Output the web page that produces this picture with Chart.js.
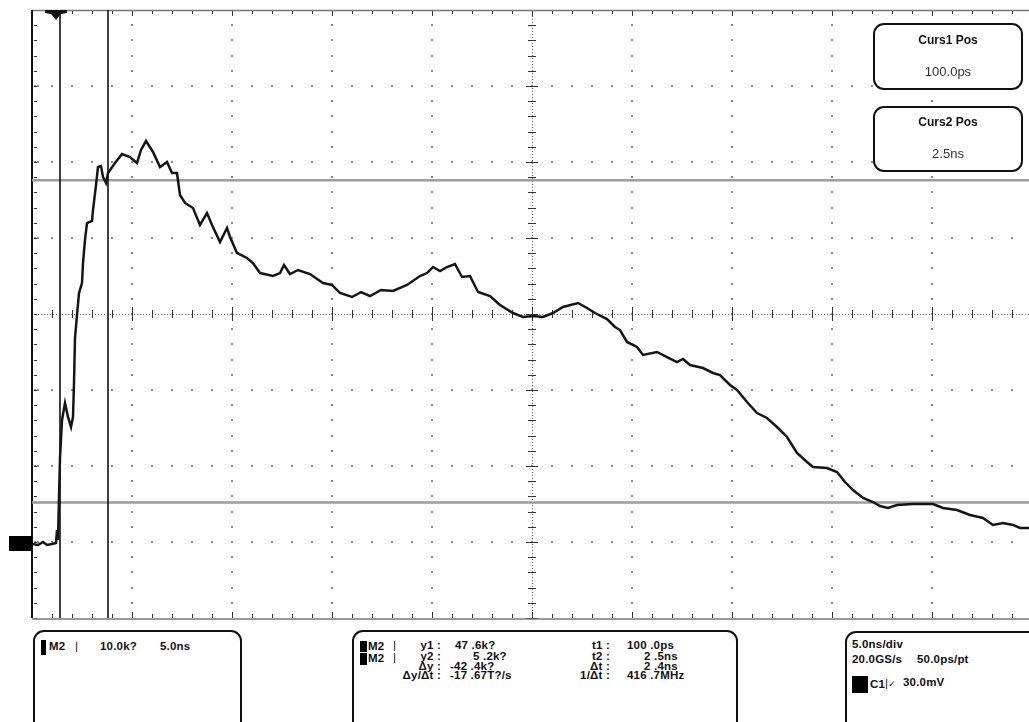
<!DOCTYPE html>
<html>
<head>
<meta charset="utf-8">
<script src="https://cdn.jsdelivr.net/npm/chart.js@4.4.1/dist/chart.umd.min.js"></script>
<style>
  body { margin: 0; background: #fff; }
  #wrap { position: relative; width: 1029px; height: 722px; overflow: hidden;
          font-family: "Liberation Sans", Arial, sans-serif; color: #111; }
  #scope { position: absolute; left: 0; top: 0; }
  .box { position: absolute; border: 2px solid #111; border-radius: 11px; background: #fff; box-sizing: border-box; }
  .t { position: absolute; white-space: pre; font-size: 11.5px; font-weight: bold; line-height: 12px; letter-spacing: 0.2px; }
  .r { text-align: right; }
  .blk { position: absolute; background: #000; }
  .ctitle { position: absolute; left: 0; width: 100%; text-align: center; font-size: 12px; font-weight: bold; line-height: 14px; }
  .cval { position: absolute; left: 0; width: 100%; text-align: center; font-size: 13px; line-height: 16px; color: #333; }
</style>
</head>
<body>
<div id="wrap">
  <canvas id="scope" width="1029" height="722"></canvas>

  <!-- cursor readouts -->
  <div class="box" style="left:873px;top:23px;width:150px;height:67px;">
    <div class="ctitle" style="top:8px;">Curs1 Pos</div>
    <div class="cval" style="top:39px;">100.0ps</div>
  </div>
  <div class="box" style="left:873px;top:106px;width:150px;height:66px;">
    <div class="ctitle" style="top:7px;">Curs2 Pos</div>
    <div class="cval" style="top:38px;">2.5ns</div>
  </div>

  <!-- math channel scale -->
  <div class="box" style="left:33px;top:630px;width:209px;height:130px;"></div>
  <div class="blk" style="left:41px;top:640px;width:5px;height:15px;"></div>
  <div class="t" style="left:49px;top:640px;">M2</div>
  <div class="t" style="left:75px;top:640px;font-weight:normal;">|</div>
  <div class="t" style="left:100px;top:640px;">10.0k?</div>
  <div class="t" style="left:160px;top:640px;">5.0ns</div>

  <!-- cursor measurements -->
  <div class="box" style="left:352px;top:630px;width:386px;height:130px;"></div>
  <div class="blk" style="left:360px;top:641px;width:7px;height:11px;"></div>
  <div class="blk" style="left:360px;top:653px;width:7px;height:12px;"></div>
  <div class="t" style="left:368px;top:640px;">M2</div>
  <div class="t" style="left:368px;top:652px;">M2</div>
  <div class="t" style="left:393px;top:639px;font-weight:normal;">|</div>
  <div class="t" style="left:393px;top:651px;font-weight:normal;">|</div>
  <div class="t r" style="left:380px;width:61px;top:639px;">y1 :</div>
  <div class="t r" style="left:380px;width:61px;top:650px;">y2 :</div>
  <div class="t r" style="left:380px;width:61px;top:660px;">Δy :</div>
  <div class="t r" style="left:380px;width:61px;top:669px;">Δy/Δt :</div>
  <div class="t" style="left:455px;top:639px;">47 .6k?</div>
  <div class="t" style="left:473px;top:650px;">5 .2k?</div>
  <div class="t" style="left:450px;top:660px;">-42 .4k?</div>
  <div class="t" style="left:450px;top:669px;">-17 .67T?/s</div>
  <div class="t r" style="left:560px;width:50px;top:639px;">t1 :</div>
  <div class="t r" style="left:560px;width:50px;top:650px;">t2 :</div>
  <div class="t r" style="left:560px;width:50px;top:660px;">Δt :</div>
  <div class="t r" style="left:560px;width:50px;top:669px;">1/Δt :</div>
  <div class="t" style="left:627px;top:639px;">100 .0ps</div>
  <div class="t" style="left:644px;top:650px;">2 .5ns</div>
  <div class="t" style="left:644px;top:660px;">2 .4ns</div>
  <div class="t" style="left:627px;top:669px;">416 .7MHz</div>

  <!-- acquisition / trigger settings -->
  <div class="box" style="left:845px;top:631px;width:200px;height:130px;"></div>
  <div class="t" style="left:852px;top:638px;">5.0ns/div</div>
  <div class="t" style="left:852px;top:653px;">20.0GS/s</div>
  <div class="t" style="left:917px;top:653px;">50.0ps/pt</div>
  <div class="blk" style="left:852px;top:676px;width:16px;height:17px;"></div>
  <div class="t" style="left:870px;top:678px;">C1</div>
  <div class="t" style="left:885px;top:677px;font-weight:normal;">|<span style="font-size:9px;">✓</span></div>
  <div class="t" style="left:903px;top:676px;">30.0mV</div>
</div>

<script>
// Math channel M2 record: time in ns, amplitude in k (10.0k per division)
const timeNs = [
  -1.3, -1.0, -0.75, -0.55, -0.3, -0.1, -0.05, 0, 0.05, 0.1,
  0.2, 0.35, 0.5, 0.65, 0.75, 0.8, 0.85, 0.95, 1.05, 1.2,
  1.25, 1.35, 1.45, 1.7, 1.75, 1.9, 2.0, 2.15, 2.25, 2.4,
  2.5, 2.85, 3.2, 3.6, 3.95, 4.15, 4.4, 4.75, 5.1, 5.45,
  5.7, 5.95, 6.1, 6.35, 6.75, 7.1, 7.45, 7.7, 8.1, 8.45,
  8.6, 8.95, 9.45, 9.75, 10.1, 10.75, 11.1, 11.3, 11.6, 12.0,
  12.6, 13.25, 13.7, 14.1, 14.7, 15.15, 15.6, 16.15, 16.75, 17.45,
  18.1, 18.45, 18.75, 19.1, 19.45, 19.85, 20.2, 20.6, 21.0, 21.6,
  22.1, 22.75, 23.25, 23.75, 24.25, 24.75, 25.25, 26.0, 26.45, 26.85,
  27.45, 27.85, 28.1, 28.45, 28.95, 29.25, 29.95, 30.45, 30.95, 31.25,
  31.6, 32.25, 32.75, 33.1, 33.6, 33.95, 34.45, 34.95, 35.45, 35.95,
  36.45, 36.95, 37.45, 37.75, 38.45, 38.95, 39.35, 39.75, 40.25, 40.75,
  41.1, 41.5, 41.95, 42.75, 43.75, 44.25, 44.95, 45.6, 46.25, 46.75,
  47.25, 47.75, 48.1, 48.55
];
const valueK = [
  -0.26, -0.39, 0.0, -0.39, -0.26, -0.13, 1.58, 0.26, 5.92, 11.05,
  16.05, 18.29, 16.45, 15.13, 16.45, 20.92, 26.84, 29.87, 32.76, 34.08,
  36.71, 39.74, 41.97, 42.24, 43.68, 46.97, 49.34, 49.47, 48.03, 47.24,
  48.55, 49.87, 51.05, 50.66, 49.87, 51.58, 52.76, 51.32, 49.34, 50.0,
  48.55, 48.55, 45.66, 44.61, 43.95, 41.71, 43.29, 41.71, 39.47, 41.32,
  40.13, 38.03, 37.37, 36.71, 35.39, 35.0, 35.39, 36.45, 35.26, 35.79,
  35.26, 34.08, 33.82, 32.76, 32.24, 32.89, 32.37, 33.16, 33.03, 33.82,
  35.0, 35.39, 36.18, 35.66, 36.18, 36.58, 34.87, 35.0, 32.89, 32.37,
  31.18, 30.13, 29.61, 29.74, 29.61, 30.13, 30.92, 31.45, 30.79, 30.13,
  29.34, 28.29, 27.89, 26.32, 25.66, 24.61, 25.0, 24.34, 23.68, 24.08,
  23.29, 22.89, 22.24, 21.97, 20.66, 20.0, 18.42, 16.97, 16.32, 15.13,
  13.82, 11.71, 10.53, 9.87, 9.74, 9.21, 7.89, 6.84, 5.79, 5.26,
  4.74, 4.47, 4.87, 5.0, 5.0, 4.47, 4.21, 3.55, 3.16, 2.24,
  2.5, 2.24, 1.84, 1.84
];

// Cursor settings
const cursorTimesNs = [0.1, 2.5];     // t1, t2
const cursorLevelsK = [47.6, 5.2];    // y1, y2
const triggerTimeNs = -0.1;
const groundLevelK = 0;

// Screen settings: 5 ns/div, 10 k/div, 10 x 8 divisions
const timePerDiv = 5;
const levelPerDiv = 10;
const screenStartNs = -1.3;
const screenLevelsK = [-10, 70];

const points = timeNs.map((t, i) => ({ x: t, y: valueK[i] }));

function drawDot(ctx, x, y, s) { ctx.fillRect(Math.round(x - s / 2), Math.round(y - s / 2), s, s); }

const scopeScreen = {
  id: 'scopeScreen',
  beforeDatasetsDraw(chart) {
    const { ctx, chartArea: a, scales: { x, y } } = chart;
    ctx.save();
    const minorT = timePerDiv / 5, minorV = levelPerDiv / 5;
    const centerT = screenStartNs + 5 * timePerDiv;
    const centerV = (screenLevelsK[0] + screenLevelsK[1]) / 2;
    const cx = x.getPixelForValue(centerT), cy = y.getPixelForValue(centerV);

    // dotted graticule
    ctx.fillStyle = '#8a8a8a';
    for (let k = 1; k < 10; k++) {
      if (k === 5) continue;
      const px = x.getPixelForValue(screenStartNs + k * timePerDiv);
      if (px > a.right) continue;
      for (let v = screenLevelsK[0] + minorV; v < screenLevelsK[1]; v += minorV) drawDot(ctx, px, y.getPixelForValue(v), 2);
    }
    for (let k = 1; k < 8; k++) {
      if (k === 4) continue;
      const py = y.getPixelForValue(screenLevelsK[0] + k * levelPerDiv);
      for (let t = screenStartNs + minorT; t <= x.max; t += minorT) drawDot(ctx, x.getPixelForValue(t), py, 2);
      drawDot(ctx, a.left + 3, py, 2); drawDot(ctx, a.left + 6, py, 2);
    }

    // center cross: fine dots with minor ticks
    ctx.fillStyle = '#666';
    for (let px = a.left; px < a.right; px += 3) ctx.fillRect(px, Math.round(cy), 1, 1);
    for (let py = a.top; py < a.bottom; py += 3) ctx.fillRect(Math.round(cx), py, 1, 1);
    ctx.strokeStyle = '#333'; ctx.lineWidth = 1;
    ctx.beginPath();
    let i = 0;
    for (let t = screenStartNs; t <= x.max; t += minorT, i++) {
      const px = Math.round(x.getPixelForValue(t)) + 0.5;
      const h = (i % 5 === 0) ? 7 : 4;
      ctx.moveTo(px, cy - h); ctx.lineTo(px, cy + h);
      // top and bottom edge ticks
      ctx.moveTo(px, a.top); ctx.lineTo(px, a.top + (i % 5 === 0 ? 6 : 4));
      ctx.moveTo(px, a.bottom); ctx.lineTo(px, a.bottom - (i % 5 === 0 ? 6 : 4));
    }
    i = 0;
    for (let v = screenLevelsK[0]; v <= screenLevelsK[1]; v += minorV, i++) {
      const py = Math.round(y.getPixelForValue(v)) + 0.5;
      const w = (i % 5 === 0) ? 6 : 4;
      ctx.moveTo(cx - w, py); ctx.lineTo(cx + w, py);
      ctx.moveTo(a.left + 2, py); ctx.lineTo(a.left + 5, py);
    }
    ctx.stroke();

    // frame: top and bottom edges, dark left edge
    ctx.strokeStyle = '#777'; ctx.lineWidth = 1.5;
    ctx.beginPath();
    ctx.moveTo(a.left, a.top + 0.5); ctx.lineTo(a.right, a.top + 0.5);
    ctx.moveTo(a.left, a.bottom + 1); ctx.lineTo(a.right, a.bottom + 1);
    ctx.stroke();
    ctx.strokeStyle = '#111'; ctx.lineWidth = 2;
    ctx.beginPath(); ctx.moveTo(a.left, a.top); ctx.lineTo(a.left, a.bottom); ctx.stroke();

    // horizontal cursors
    ctx.strokeStyle = '#9c9c9c'; ctx.lineWidth = 2.5;
    ctx.beginPath();
    cursorLevelsK.forEach(v => { const py = y.getPixelForValue(v); ctx.moveTo(a.left, py); ctx.lineTo(a.right, py); });
    ctx.stroke();
    // vertical cursors
    ctx.strokeStyle = '#111'; ctx.lineWidth = 1.6;
    ctx.beginPath();
    cursorTimesNs.forEach(t => { const px = x.getPixelForValue(t); ctx.moveTo(px, a.top); ctx.lineTo(px, a.bottom); });
    ctx.stroke();

    // trigger position marker
    const tx = x.getPixelForValue(triggerTimeNs);
    ctx.fillStyle = '#111';
    ctx.beginPath();
    ctx.moveTo(tx - 11, a.top); ctx.lineTo(tx + 11, a.top); ctx.lineTo(tx + 11, a.top + 3);
    ctx.lineTo(tx + 5, a.top + 4); ctx.lineTo(tx, a.top + 10); ctx.lineTo(tx - 5, a.top + 4);
    ctx.lineTo(tx - 11, a.top + 3); ctx.closePath(); ctx.fill();

    // ground reference marker
    const gy = y.getPixelForValue(groundLevelK);
    ctx.fillStyle = '#000';
    ctx.fillRect(9, Math.round(gy) - 6, a.left - 9, 15);
    ctx.restore();
  }
};

new Chart(document.getElementById('scope'), {
  type: 'scatter',
  data: {
    datasets: [{
      label: 'M2',
      data: points,
      showLine: true,
      borderColor: '#151515',
      borderWidth: 2.5,
      pointRadius: 0,
      tension: 0
    }]
  },
  options: {
    responsive: false,
    animation: false,
    events: [],
    layout: { padding: { left: 32, top: 10, right: 0, bottom: 104 } },
    plugins: { legend: { display: false }, tooltip: { enabled: false } },
    scales: {
      x: { type: 'linear', display: false, min: screenStartNs, max: 48.55 },
      y: { type: 'linear', display: false, min: screenLevelsK[0], max: screenLevelsK[1] }
    }
  },
  plugins: [scopeScreen]
});
</script>
</body>
</html>
